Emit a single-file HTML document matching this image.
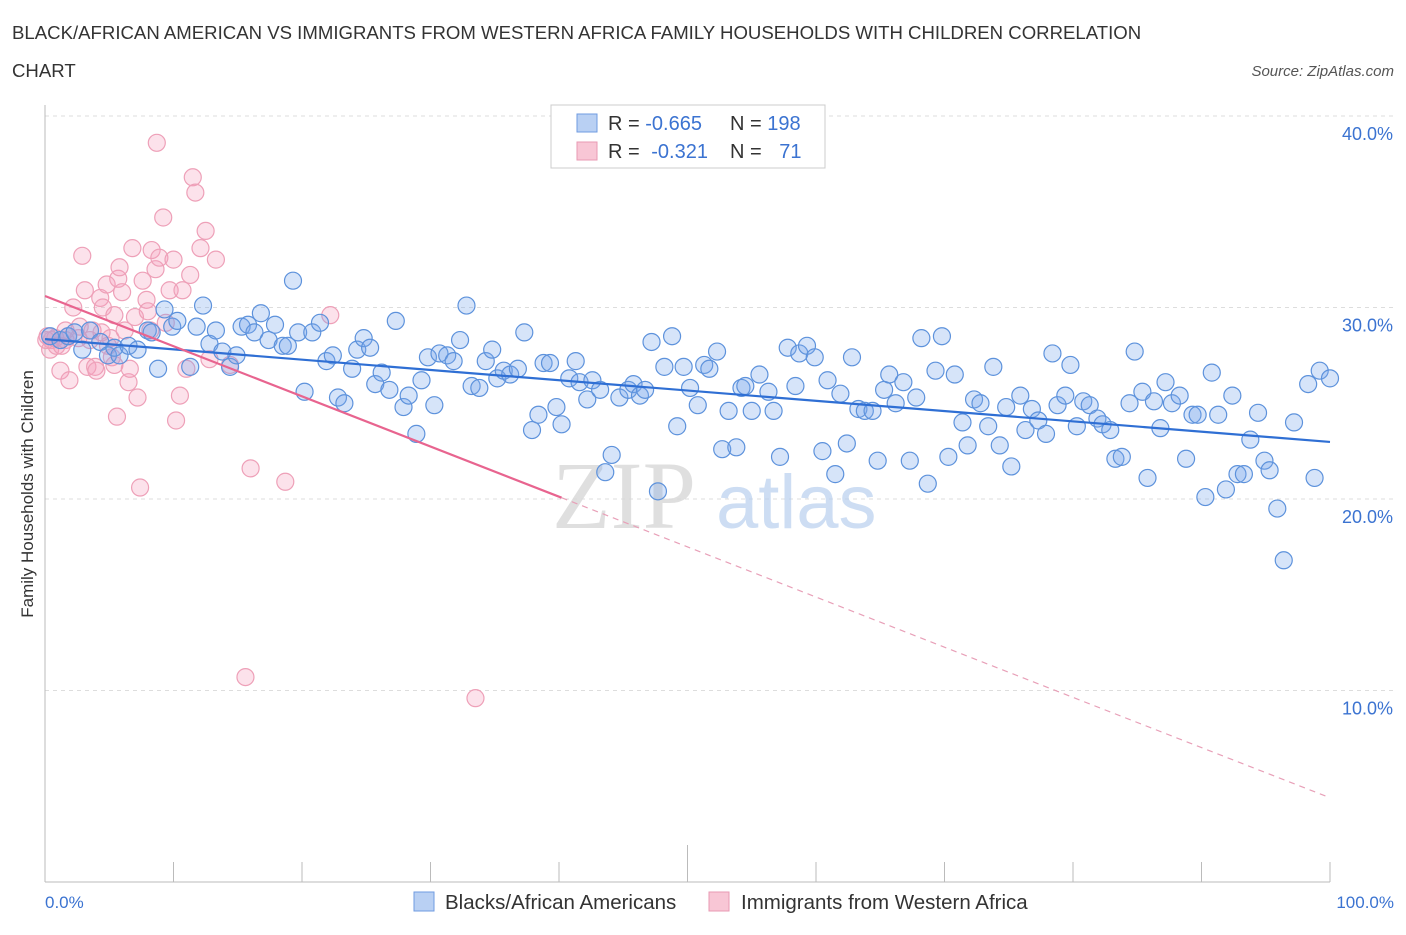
<!DOCTYPE html>
<html><head><meta charset="utf-8">
<style>
html,body{margin:0;padding:0;background:#fff;}
body{width:1406px;height:930px;overflow:hidden;font-family:"Liberation Sans",sans-serif;}
</style></head>
<body>
<svg id="chart" width="1406" height="930" xmlns="http://www.w3.org/2000/svg" font-family="Liberation Sans, sans-serif">
<text x="12" y="39" font-size="18.6" fill="#333">BLACK/AFRICAN AMERICAN VS IMMIGRANTS FROM WESTERN AFRICA FAMILY HOUSEHOLDS WITH CHILDREN CORRELATION</text>
<text x="12" y="77" font-size="18.6" fill="#333">CHART</text>
<text x="1394" y="76" font-size="15" fill="#555" text-anchor="end" font-style="italic">Source: ZipAtlas.com</text>
<g id="grid"></g>
<g>
<text x="552" y="528" font-size="96" fill="#d8d8d8" font-family="Liberation Serif, serif" opacity="0.8">ZIP</text>
<text x="716" y="528" font-size="76" fill="#b8d0ee" opacity="0.7">atlas</text>
</g>
<g id="axes"></g>
<g id="marks"></g>
<g id="lines"></g>
<text transform="translate(33,494) rotate(-90)" font-size="17" fill="#333" text-anchor="middle">Family Households with Children</text>
<text x="45" y="908" font-size="17" fill="#3b73d1">0.0%</text>
<text x="1394" y="908" font-size="17" fill="#3b73d1" text-anchor="end">100.0%</text>
<g>
<rect x="551" y="105" width="274" height="63" fill="#fff" stroke="#ccc"/>
<rect x="577" y="114" width="20" height="18" fill="#b9d0f3" stroke="#6f9be0"/>
<rect x="577" y="142" width="20" height="18" fill="#f8c6d5" stroke="#e89ab3"/>
<text x="608" y="130" font-size="20" fill="#333">R = <tspan fill="#3b73d1">-0.665</tspan></text>
<text x="730" y="130" font-size="20" fill="#333">N = <tspan fill="#3b73d1">198</tspan></text>
<text x="608" y="158" font-size="20" fill="#333">R = <tspan fill="#3b73d1" dx="6">-0.321</tspan></text>
<text x="730" y="158" font-size="20" fill="#333">N = <tspan fill="#3b73d1" dx="12">71</tspan></text>
</g>
<g>
<rect x="414" y="892" width="20" height="19" fill="#b9d0f3" stroke="#6f9be0"/>
<text x="445" y="909" font-size="20.5" fill="#333">Blacks/African Americans</text>
<rect x="709" y="892" width="20" height="19" fill="#f8c6d5" stroke="#e89ab3"/>
<text x="741" y="909" font-size="20.5" fill="#333">Immigrants from Western Africa</text>
</g>
</svg>
<script>
const yTicks=[10,20,30,40];
const yTickLabels=["10.0%","20.0%","30.0%","40.0%"];
const blueX=[0.4,1.2,1.8,2.3,2.9,3.5,4.3,4.9,5.4,5.8,6.5,7.2,8.0,8.3,8.8,9.3,9.9,10.3,11.3,11.8,12.3,12.8,13.3,13.8,14.4,14.9,15.3,15.8,16.3,16.8,17.4,17.9,18.5,18.9,19.3,19.7,20.2,20.8,21.4,21.9,22.4,22.8,23.3,23.9,24.3,24.8,25.3,25.7,26.2,26.8,27.3,27.9,28.3,28.9,29.3,29.8,30.3,30.7,31.3,31.8,32.3,32.8,33.2,33.8,34.3,34.8,35.2,35.7,36.2,36.8,37.3,37.9,38.4,38.8,39.3,39.8,40.2,40.8,41.3,41.6,42.2,42.6,43.2,43.6,44.1,44.7,45.4,45.8,46.3,46.7,47.2,47.7,48.2,48.8,49.2,49.7,50.2,50.8,51.3,51.7,52.3,52.7,53.2,53.8,54.2,54.5,55.0,55.6,56.3,56.7,57.2,57.8,58.4,58.7,59.3,59.9,60.5,60.9,61.5,61.9,62.4,62.8,63.3,63.8,64.4,64.8,65.3,65.7,66.2,66.8,67.3,67.8,68.2,68.7,69.3,69.8,70.3,70.8,71.4,71.8,72.3,72.8,73.4,73.8,74.3,74.8,75.2,75.9,76.3,76.8,77.3,77.9,78.4,78.8,79.4,79.8,80.3,80.8,81.3,81.9,82.3,82.9,83.3,83.8,84.4,84.8,85.4,85.8,86.3,86.8,87.2,87.7,88.3,88.8,89.3,89.7,90.3,90.8,91.3,91.9,92.4,92.8,93.3,93.8,94.4,94.9,95.3,95.9,96.4,97.2,98.3,98.8,99.2,100];
const blueY=[28.5,28.3,28.5,28.7,27.8,28.8,28.2,27.5,27.9,27.5,28.0,27.8,28.8,28.7,26.8,29.9,29.0,29.3,26.9,29.0,30.1,28.1,28.8,27.7,26.9,27.5,29.0,29.1,28.7,29.7,28.3,29.1,28.0,28.0,31.4,28.7,25.6,28.7,29.2,27.2,27.5,25.3,25.0,26.8,27.8,28.4,27.9,26.0,26.6,25.7,29.3,24.8,25.4,23.4,26.2,27.4,24.9,27.6,27.5,27.2,28.3,30.1,25.9,25.8,27.2,27.8,26.3,26.7,26.5,26.8,28.7,23.6,24.4,27.1,27.1,24.8,23.9,26.3,27.2,26.1,25.2,26.2,25.7,21.4,22.3,25.3,25.7,26.0,25.4,25.7,28.2,20.4,26.9,28.5,23.8,26.9,25.8,24.9,27.0,26.8,27.7,22.6,24.6,22.7,25.8,25.9,24.6,26.5,25.6,24.6,22.2,27.9,25.9,27.6,28.0,27.4,22.5,26.2,21.3,25.5,22.9,27.4,24.7,24.6,24.6,22.0,25.7,26.5,25.0,26.1,22.0,25.3,28.4,20.8,26.7,28.5,22.2,26.5,24.0,22.8,25.2,25.0,23.8,26.9,22.8,24.8,21.7,25.4,23.6,24.7,24.1,23.4,27.6,24.9,25.4,27.0,23.8,25.1,24.9,24.2,23.9,23.6,22.1,22.2,25.0,27.7,25.6,21.1,25.1,23.7,26.1,25.0,25.4,22.1,24.4,24.4,20.1,26.6,24.4,20.5,25.4,21.3,21.3,23.1,24.5,22.0,21.5,19.5,16.8,24.0,26.0,21.1,26.7,26.3];
const pinkX=[0.2,0.4,0.5,0.9,1.2,1.3,1.6,1.8,1.9,2.2,2.6,2.9,3.1,3.3,3.7,3.9,4.0,4.3,4.5,4.8,5.1,5.2,5.4,5.6,5.7,5.8,6.0,6.2,6.5,6.6,6.8,7.0,7.2,7.4,7.6,7.9,8.0,8.2,8.3,8.6,8.7,8.9,9.2,9.4,9.7,10.0,10.2,10.5,10.7,11.0,11.3,11.5,11.7,12.1,12.5,12.8,13.3,14.4,15.6,16.0,18.7,22.2,33.5,0.8,1.6,2.7,3.5,4.4,4.9,5.4,0.1];
const pinkY=[28.5,27.8,28.3,28.0,26.7,28.0,28.3,28.5,26.2,30.0,28.4,32.7,30.9,26.9,28.8,26.9,26.7,30.5,30.0,31.2,28.4,27.4,29.6,24.3,31.5,32.1,30.8,28.8,26.1,26.8,33.1,29.5,25.3,20.6,31.4,30.4,29.8,28.8,33.0,32.0,38.6,32.6,34.7,29.2,30.9,32.5,24.1,25.4,30.9,26.8,31.7,36.8,36.0,33.1,34.0,27.3,32.5,27.0,10.7,21.6,20.9,29.6,9.6,28.4,28.8,29.0,28.3,28.7,28.0,27.0,28.3];
const blueTrend=[28.35,22.98];
const pinkTrend=[30.6,4.4];
const pinkSolidEnd=40.2;

const NS="http://www.w3.org/2000/svg";
const X0=45,X1=1330,YB=882,PX10=19.15;
const sx=v=>X0+(X1-X0)*v/100;
const sy=v=>YB-v*PX10;
function mk(tag,attrs,parent){const e=document.createElementNS(NS,tag);for(const k in attrs)e.setAttribute(k,attrs[k]);parent.appendChild(e);return e;}
const grid=document.getElementById('grid'),axes=document.getElementById('axes'),marks=document.getElementById('marks'),lines=document.getElementById('lines');
yTicks.forEach((t,i)=>{
  const l=mk('line',{x1:X0,x2:1394,y1:sy(t),y2:sy(t),stroke:'#ddd','stroke-dasharray':'4,4'},grid);
  
  
  const tx=mk('text',{x:1393,y:sy(t)+24,'font-size':18,fill:'#3b73d1','text-anchor':'end'},grid);
  tx.textContent=yTickLabels[i];
  
  
});
const ax=mk('line',{x1:X0,x2:X1,y1:YB,y2:YB,stroke:'#bbb'},axes);


const ay=mk('line',{x1:X0,x2:X0,y1:105,y2:YB,stroke:'#bbb'},axes);


for(let i=1;i<=10;i++){
  const x=sx(i*10);
  const t=mk('line',{x1:x,x2:x,y1:i==5?845:862,y2:YB,stroke:'#bbb'},axes);
  
  
}
pinkX.forEach((v,i)=>{
  const c=mk('circle',{cx:sx(v),cy:sy(pinkY[i]),r:8.5,fill:'rgba(244,160,188,0.3)',stroke:'#eea0b8','stroke-width':1.2},marks);
  
  
});
blueX.forEach((v,i)=>{
  const c=mk('circle',{cx:sx(v),cy:sy(blueY[i]),r:8.5,fill:'rgba(120,165,235,0.3)',stroke:'#5d92dc','stroke-width':1.2},marks);
  
  
});
const bl=mk('line',{x1:sx(0),y1:sy(blueTrend[0]),x2:sx(100),y2:sy(blueTrend[1]),stroke:'#2f6fd4','stroke-width':2.2},lines);


const py=x=>pinkTrend[0]+(pinkTrend[1]-pinkTrend[0])*x/100;
const pl=mk('line',{x1:sx(0),y1:sy(pinkTrend[0]),x2:sx(pinkSolidEnd),y2:sy(py(pinkSolidEnd)),stroke:'#e8648f','stroke-width':2.2},lines);


const pd=mk('line',{x1:sx(pinkSolidEnd),y1:sy(py(pinkSolidEnd)),x2:sx(100),y2:sy(pinkTrend[1]),stroke:'#e8a0b8','stroke-width':1.2,'stroke-dasharray':'6,5'},lines);


</script>
</body></html>
